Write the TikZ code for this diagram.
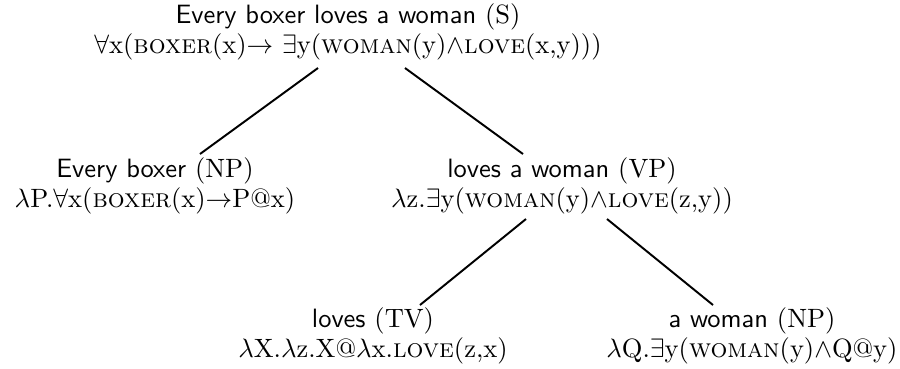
\documentclass[tikz,border=0pt]{standalone}
\usetikzlibrary{calc}
\begin{document}
\begin{tikzpicture}[x=0.4115pt,y=-0.4115pt,
  cst/.style={align=center,inner sep=0pt,anchor=base,font=\fontsize{10.9}{12}\selectfont},
  br/.style={line width=0.8pt}]
\useasboundingbox (0,0) rectangle (900,368);
\node[cst] (S) at (348,53) {\textsf{Every boxer loves a woman} (S)\\
  $\forall$x(\textsc{boxer}(x)$\rightarrow$ $\exists$y(\textsc{woman}(y)$\wedge$\textsc{love}(x,y)))};
\node[cst] (NPl) at (155,207) {\textsf{Every boxer} (NP)\\
  $\lambda$P.$\forall$x(\textsc{boxer}(x)$\rightarrow$P@x)};
\node[cst] (VP) at (562,207) {\textsf{loves a woman} (VP)\\
  $\lambda$z.$\exists$y(\textsc{woman}(y)$\wedge$\textsc{love}(z,y))};
\node[cst] (TV) at (373,357) {\textsf{loves} (TV)\\
  $\lambda$X.$\lambda$z.X@$\lambda$x.\textsc{love}(z,x)};
\node[cst] (NPr) at (752,357) {\textsf{a woman} (NP)\\
  $\lambda$Q.$\exists$y(\textsc{woman}(y)$\wedge$Q@y)};
\draw[br] ($(S.base)+(-30,15)$) -- ($(NPl.base)+(45,-53)$);
\draw[br] ($(S.base)+(57,15)$) -- ($(VP.base)+(-39,-53)$);
\draw[br] ($(VP.base)+(-36,12)$) -- ($(TV.base)+(47,-52)$);
\draw[br] ($(VP.base)+(45,12)$) -- ($(NPr.base)+(-39,-52)$);
\end{tikzpicture}
\end{document}
